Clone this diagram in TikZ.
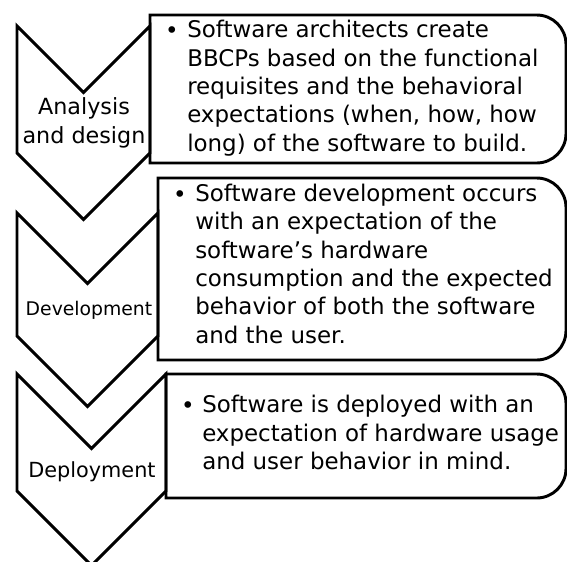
\documentclass[tikz,border=0pt]{standalone}
\usepackage{fontspec}
\setmainfont{DejaVu Sans}
\usepackage{tikz}
\usetikzlibrary{positioning}
\tikzset{
    %Define style for chevrons
    chevron/.style={
           draw=black, line width=2.2pt,
           line join=miter},
    %Define style for boxes
    listbox/.style={
           draw=black, line width=2.2pt},
    %Define style for stage names
    stagetext/.style={
           align=center,
           inner sep=0pt,
           anchor=base},
    %Define style for box texts (anchored at last line)
    itemtext/.style={
           align=left,
           inner sep=0pt,
           anchor=base west,
           font=\fontsize{17.2}{21.2}\selectfont},
    dot/.style={
           inner sep=0pt,
           anchor=base,
           font=\fontsize{17.2}{21.2}\selectfont}
}

\begin{document}
\begin{tikzpicture}[x=0.75pt,y=-0.75pt]
\useasboundingbox (0,0) rectangle (567,561);

 %chevrons
\draw[chevron] (17,26) -- (83.5,92.5) -- (150,26) -- (150,153) -- (83.5,219.5) -- (17,153) -- cycle;
\draw[chevron] (17,213) -- (87.5,283.5) -- (158,213) -- (158,336) -- (87.5,406.5) -- (17,336) -- cycle;
\draw[chevron] (17,374) -- (91.5,448.5) -- (166,374) -- (166,491) -- (91.5,565.5) -- (17,491) -- cycle;

 %boxes
\draw[listbox] (150,15) [rounded corners=22] -- (566,15) -- (566,163) [sharp corners] -- (150,163) -- cycle;
\draw[listbox] (158,178) [rounded corners=22] -- (566,178) -- (566,360) [sharp corners] -- (158,360) -- cycle;
\draw[listbox] (166,374) [rounded corners=22] -- (566,374) -- (566,498) [sharp corners] -- (166,498) -- cycle;

 %stage names
\node[stagetext, font=\fontsize{16.7}{21.2}\selectfont] (analysis) at (84,143) {Analysis\\and design};
\node[stagetext, font=\fontsize{14.1}{17}\selectfont] (development) at (89,315) {Development};
\node[stagetext, font=\fontsize{15.6}{19}\selectfont] (deployment) at (92,477) {Deployment};

 %box texts
\node[dot] (dot1) at (172,38) {•};
\node[itemtext] (item1) at (187,151) {Software architects create\\BBCPs based on the functional\\requisites and the behavioral\\expectations (when, how, how\\long) of the software to build.};
\node[dot] (dot2) at (180,202) {•};
\node[itemtext] (item2) at (195,343) {Software development occurs\\with an expectation of the\\software’s hardware\\consumption and the expected\\behavior of both the software\\and the user.};
\node[dot] (dot3) at (188,413) {•};
\node[itemtext] (item3) at (202,469.5) {Software is deployed with an\\expectation of hardware usage\\and user behavior in mind.};

\end{tikzpicture}
\end{document}
